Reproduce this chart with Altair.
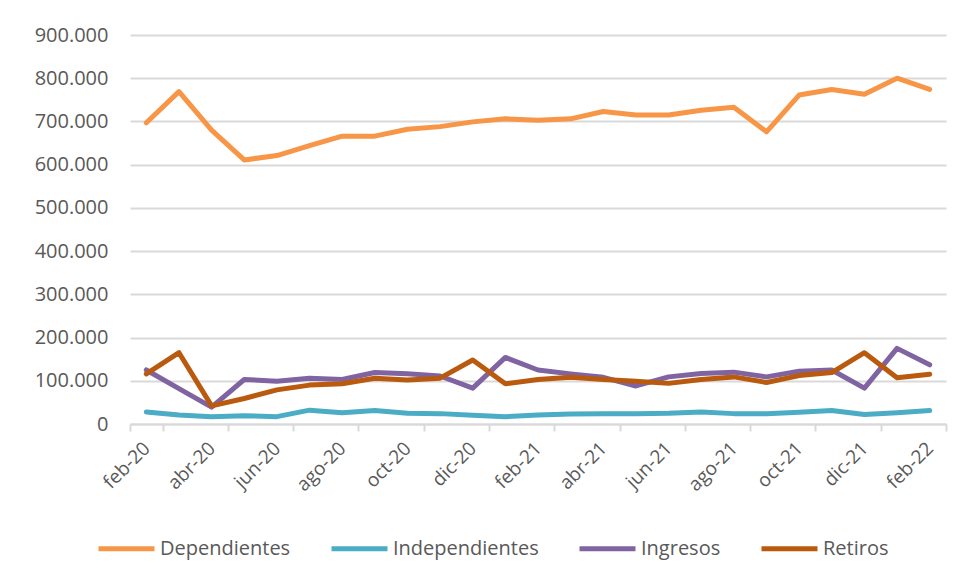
import altair as alt
import pandas as pd

months = ["feb-20", "mar-20", "abr-20", "may-20", "jun-20", "jul-20", "ago-20", "sep-20",
          "oct-20", "nov-20", "dic-20", "ene-21", "feb-21", "mar-21", "abr-21", "may-21",
          "jun-21", "jul-21", "ago-21", "sep-21", "oct-21", "nov-21", "dic-21", "ene-22", "feb-22"]

dependientes = [697000, 769000, 680000, 611000, 621000, 644000, 666000, 666000, 682000, 688000,
                699000, 706000, 703000, 706000, 723000, 715000, 715000, 726000, 733000, 676000,
                761000, 774000, 763000, 800000, 774000]
independientes = [28000, 21000, 17000, 19000, 17000, 32000, 26000, 31000, 25000, 24000,
                  20000, 17000, 21000, 23000, 24000, 24000, 25000, 28000, 24000, 24000,
                  27000, 31000, 22000, 26000, 31000]
ingresos = [125000, 82000, 39000, 103000, 99000, 106000, 103000, 119000, 116000, 111000,
            83000, 154000, 125000, 116000, 108000, 88000, 109000, 117000, 120000, 109000,
            122000, 125000, 83000, 175000, 137000]
retiros = [116000, 165000, 42000, 59000, 79000, 90000, 93000, 106000, 102000, 106000,
           148000, 93000, 103000, 108000, 103000, 99000, 94000, 103000, 109000, 96000,
           112000, 119000, 165000, 107000, 115000]

series_names = ["Dependientes", "Independientes", "Ingresos", "Retiros"]
series_colors = ["#F79646", "#4BACC6", "#8064A2", "#BA5A0F"]
y_ticks = [0, 100000, 200000, 300000, 400000, 500000, 600000, 700000, 800000, 900000]
x_label_months = months[::2]

rows = []
for name, vals in zip(series_names, [dependientes, independientes, ingresos, retiros]):
    for m, v in zip(months, vals):
        rows.append({"mes": m, "serie": name, "valor": v})
df = pd.DataFrame(rows)

FONT = "Open Sans"
GRAY = "#595959"
GRID = "#D9D9D9"

chart = alt.Chart(df).mark_line(strokeWidth=5, strokeCap="round", strokeJoin="round").encode(
    x=alt.X("mes:O", sort=months, bandPosition=0.5,
            scale=alt.Scale(type="band", domain=months, paddingInner=0, paddingOuter=0),
            axis=alt.Axis(title=None, values=x_label_months, labelAngle=-45, labelAlign="right",
                          labelBaseline="middle", tickBand="extent", tickSize=7,
                          tickColor=GRID, tickWidth=2, domainColor=GRID, domainWidth=2,
                          labelPadding=14, labelColor=GRAY, labelFont=FONT, labelFontSize=19,
                          grid=False)),
    y=alt.Y("valor:Q", scale=alt.Scale(domain=[0, 900000], nice=False),
            axis=alt.Axis(title=None, values=y_ticks, ticks=False, domain=False,
                          labelExpr="replace(format(datum.value, ','), ',', '.')",
                          labelPadding=22, labelColor=GRAY, labelFont=FONT, labelFontSize=20,
                          gridColor=GRID, gridWidth=2)),
    color=alt.Color("serie:N", sort=series_names,
                    scale=alt.Scale(domain=series_names, range=series_colors),
                    legend=alt.Legend(title=None, orient="none", direction="horizontal",
                                      legendX=-34, legendY=483, symbolType="stroke",
                                      symbolSize=3136, symbolStrokeWidth=5,
                                      labelFont=FONT, labelFontSize=20, labelColor=GRAY,
                                      labelOffset=3, columnPadding=30))
).properties(
    width=816, height=389,
    padding={"left": 26, "top": 17, "right": 5, "bottom": 5}
).configure_view(stroke=None)

chart.save("out.html", embed_options={"renderer": "svg", "actions": False})
